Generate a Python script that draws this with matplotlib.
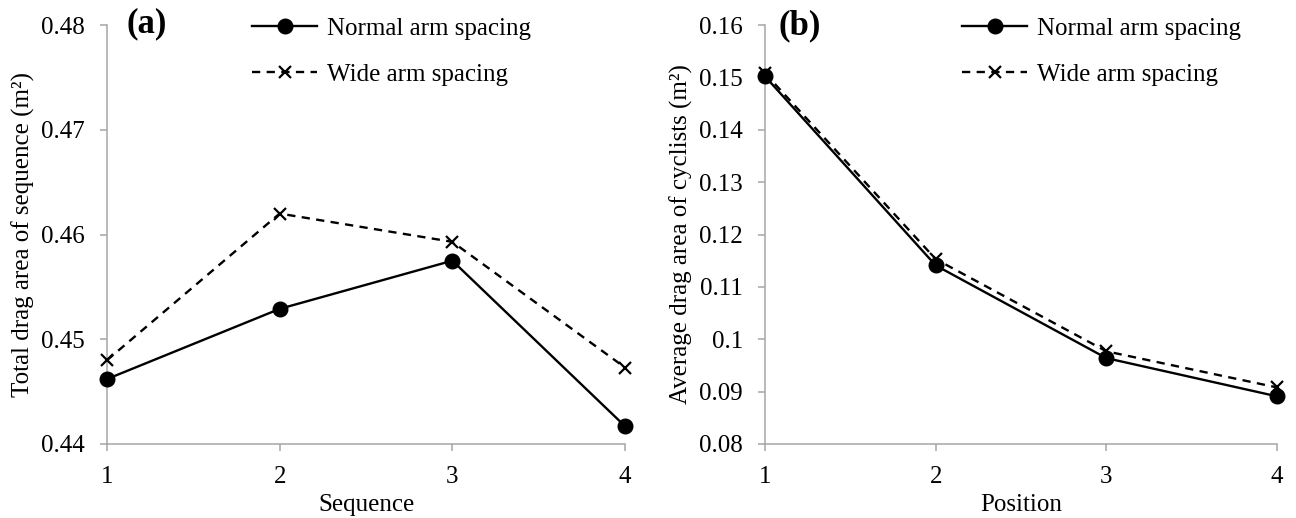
import matplotlib
matplotlib.use("Agg")
import matplotlib.pyplot as plt

plt.rcParams['font.family'] = ['Liberation Serif', 'DejaVu Serif']

x = [1, 2, 3, 4]
seq_normal = [0.4462, 0.4529, 0.4575, 0.4417]
seq_wide = [0.4480, 0.4620, 0.4593, 0.4473]
pos_normal = [0.1502, 0.1141, 0.0964, 0.0891]
pos_wide = [0.1508, 0.1153, 0.0977, 0.0908]

left_ticks = [0.44, 0.45, 0.46, 0.47, 0.48]
left_labels = ["0.44", "0.45", "0.46", "0.47", "0.48"]
right_ticks = [0.08, 0.09, 0.10, 0.11, 0.12, 0.13, 0.14, 0.15, 0.16]
right_labels = ["0.08", "0.09", "0.1", "0.11", "0.12", "0.13", "0.14", "0.15", "0.16"]

W, H = 1296, 518
fig = plt.figure(figsize=(W / 100, H / 100), dpi=100)

FS = 18
GRAY = '#a6a6a6'

def panel(rect, yn, yw, ticks, labels, ylabel, xlabel, tag, tagpos, legpos):
    ax = fig.add_axes(rect)
    ax.plot(x, yn, color='black', lw=1.7, marker='o', markersize=10.5,
            clip_on=False, zorder=3, label='Normal arm spacing')
    ax.plot(x, yw, color='black', lw=1.7, marker='x', markersize=9,
            markeredgewidth=1.6, dashes=(3.5, 2.7), clip_on=False, zorder=3,
            label='Wide arm spacing')
    ax.set_xlim(1, 4)
    ax.set_ylim(ticks[0], ticks[-1])
    ax.set_xticks(x)
    ax.set_xticklabels([str(v) for v in x])
    ax.set_yticks(ticks)
    ax.set_yticklabels(labels)
    for s in ['top', 'right']:
        ax.spines[s].set_visible(False)
    for s in ['left', 'bottom']:
        ax.spines[s].set_color(GRAY)
        ax.spines[s].set_linewidth(1.1)
    ax.tick_params(axis='both', direction='out', length=5, width=1.1,
                   color=GRAY, labelsize=FS, labelcolor='black')
    ax.tick_params(axis='y', pad=11)
    ax.tick_params(axis='x', pad=11)
    ax.set_ylabel(ylabel, fontsize=FS, labelpad=4)
    ax.set_xlabel(xlabel, fontsize=FS, labelpad=4)
    fig.text(tagpos[0] / W, 1 - tagpos[1] / H, tag, fontsize=25,
             fontweight='bold', ha='left', va='center')
    ax.legend(loc='upper left', bbox_to_anchor=(legpos[0] / W, 1 - legpos[1] / H),
              bbox_transform=fig.transFigure, frameon=False, fontsize=FS,
              handlelength=2.6, handletextpad=0.4, labelspacing=0.95,
              borderpad=0, borderaxespad=0)
    return ax

bottom = 1 - 444 / H
height = (444 - 25) / H
panel([107 / W, bottom, 518 / W, height], seq_normal, seq_wide,
      left_ticks, left_labels, 'Total drag area of sequence (m²)', 'Sequence',
      '(a)', (127, 24), (252, 17))
panel([765 / W, bottom, 512 / W, height], pos_normal, pos_wide,
      right_ticks, right_labels, 'Average drag area of cyclists (m²)', 'Position',
      '(b)', (778, 26), (962, 17))

fig.savefig('out.png', dpi=100)
